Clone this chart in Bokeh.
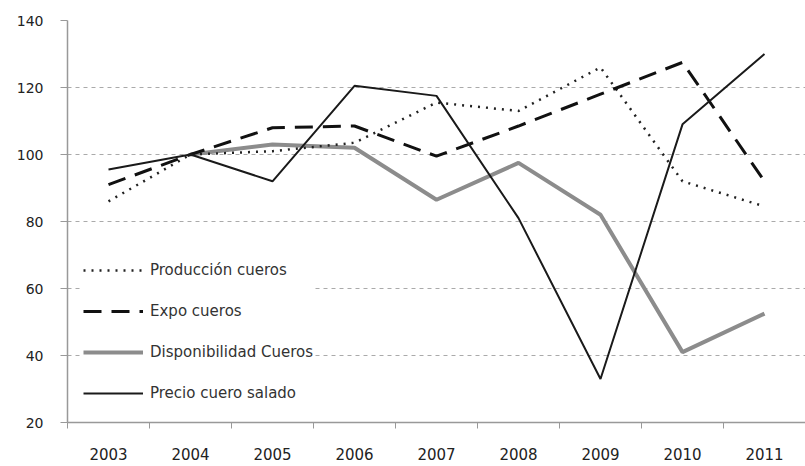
from bokeh.plotting import figure
from bokeh.models import Range1d, FixedTicker, Legend, LegendItem
from bokeh.embed import file_html
from bokeh.resources import INLINE
import numpy as np

years = [2003, 2004, 2005, 2006, 2007, 2008, 2009, 2010, 2011]
produccion = [86, 100, 101, 103.5, 115.5, 113, 126, 92, 84.5]
expo = [91, 100, 108, 108.5, 99.5, 108.5, 118, 127.5, 92]
disponibilidad = [np.nan, 100, 103, 102, 86.5, 97.5, 82, 41, 52.5]
precio = [95.5, 100, 92, 120.5, 117.5, 81, 33, 109, 130]
y_ticks = [20, 40, 60, 80, 100, 120, 140]
boundaries = [y - 0.5 for y in years] + [years[-1] + 0.5]

p = figure(width=805, height=466, output_backend="svg", toolbar_location=None,
           x_range=Range1d(2002.5, 2011.5), y_range=Range1d(20, 140),
           min_border_left=67, min_border_right=0, min_border_top=20, min_border_bottom=44)
p.outline_line_color = None
p.background_fill_color = "white"

# axes
p.xaxis.ticker = FixedTicker(ticks=years, minor_ticks=boundaries)
p.xaxis.major_tick_out = 0
p.xaxis.major_tick_in = 0
p.xaxis.minor_tick_out = 6
p.xaxis.minor_tick_in = 0
p.xaxis.minor_tick_line_color = "#999999"
p.xaxis.axis_line_color = "#999999"
p.xaxis.axis_line_width = 1.5
p.xaxis.major_label_standoff = 19
p.xaxis.major_label_text_font = "DejaVu Sans"
p.xaxis.major_label_text_font_size = "15px"
p.xaxis.major_label_text_color = "#222222"

p.yaxis.ticker = FixedTicker(ticks=y_ticks)
p.yaxis.major_tick_out = 7
p.yaxis.major_tick_in = 0
p.yaxis.minor_tick_line_color = None
p.yaxis.major_tick_line_color = "#999999"
p.yaxis.axis_line_color = "#999999"
p.yaxis.axis_line_width = 1.5
p.yaxis.major_label_standoff = 17
p.yaxis.major_label_text_font = "DejaVu Sans"
p.yaxis.major_label_text_font_size = "14px"
p.yaxis.major_label_text_color = "#222222"

p.xgrid.grid_line_color = None
p.ygrid.ticker = FixedTicker(ticks=y_ticks[1:])
p.ygrid.grid_line_color = "#aaaaaa"
p.ygrid.grid_line_dash = "4 4"
p.ygrid.grid_line_width = 1

r_disp = p.line(years, disponibilidad, line_color="#8c8c8c", line_width=4)
r_prod = p.line(years, produccion, line_color="#222222", line_width=2.5, line_dash="2 6")
r_expo = p.line(years, expo, line_color="#111111", line_width=3, line_dash="18 10")
r_prec = p.line(years, precio, line_color="#1a1a1a", line_width=2)

legend = Legend(items=[
    LegendItem(label="Producción cueros", renderers=[r_prod]),
    LegendItem(label="Expo cueros", renderers=[r_expo]),
    LegendItem(label="Disponibilidad Cueros", renderers=[r_disp]),
    LegendItem(label="Precio cuero salado", renderers=[r_prec]),
], location=(16, 19))
legend.glyph_width = 60
legend.glyph_height = 20
legend.label_height = 20
legend.spacing = 21
legend.padding = 18
legend.margin = 0
legend.label_standoff = 7
legend.label_text_font = "DejaVu Sans"
legend.label_text_font_size = "15px"
legend.label_text_color = "#333333"
legend.border_line_color = None
legend.background_fill_color = "white"
legend.background_fill_alpha = 1.0
p.add_layout(legend)

open("out.html", "w").write(file_html(p, INLINE))
